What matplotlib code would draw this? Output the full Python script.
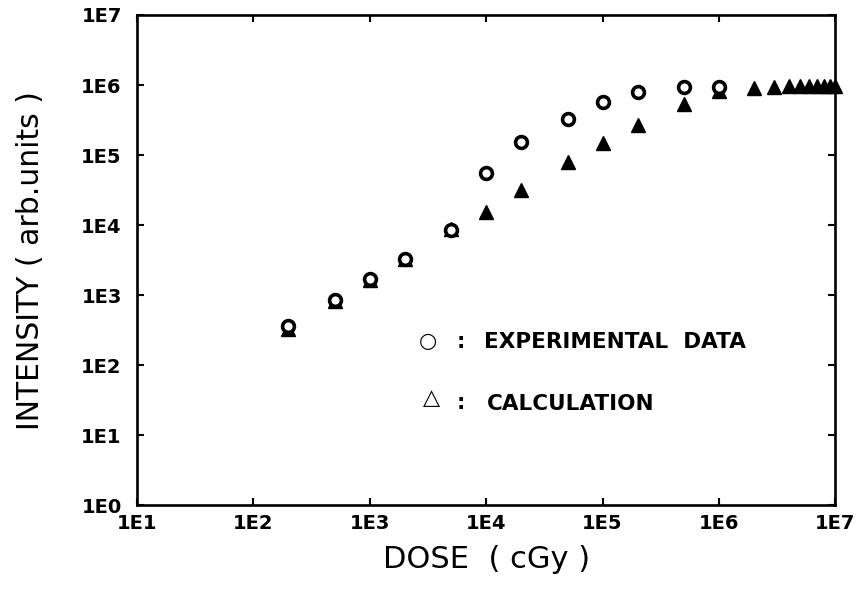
import matplotlib.pyplot as plt

# dose (cGy) and intensity (arb. units)
exp_dose = [2e2, 5e2, 1e3, 2e3, 5e3, 1e4, 2e4, 5e4, 1e5, 2e5, 5e5, 1e6]
exp_int = [360, 850, 1700, 3300, 8500, 5.5e4, 1.55e5, 3.3e5, 5.7e5, 8.0e5, 9.4e5, 9.5e5]

calc_dose = [2e2, 5e2, 1e3, 2e3, 5e3, 1e4, 2e4, 5e4, 1e5, 2e5, 5e5, 1e6,
             2e6, 3e6, 4e6, 5e6, 6e6, 7e6, 8e6, 9e6, 1e7]
calc_int = [330, 830, 1650, 3300, 8800, 1.55e4, 3.2e4, 7.9e4, 1.5e5, 2.7e5, 5.4e5, 8.2e5,
            9.1e5, 9.5e5, 9.7e5, 9.8e5, 9.8e5, 9.8e5, 9.8e5, 9.8e5, 9.8e5]

xticks = [1e1, 1e2, 1e3, 1e4, 1e5, 1e6, 1e7]
xlabels = ['1E1', '1E2', '1E3', '1E4', '1E5', '1E6', '1E7']
yticks = [1e0, 1e1, 1e2, 1e3, 1e4, 1e5, 1e6, 1e7]
ylabels = ['1E0', '1E1', '1E2', '1E3', '1E4', '1E5', '1E6', '1E7']

plt.rcParams['font.family'] = ['DejaVu Sans']

fig = plt.figure(figsize=(8.62, 5.98), dpi=100)
ax = fig.add_axes([0.159, 0.155, 0.81, 0.82])

ax.plot(calc_dose, calc_int, linestyle='none', marker='^', markersize=10,
        color='black', clip_on=False)
ax.plot(exp_dose, exp_int, linestyle='none', marker='o', markersize=8.5,
        markerfacecolor='white', markeredgecolor='black', markeredgewidth=2.6,
        clip_on=False)

ax.set_xscale('log')
ax.set_yscale('log')
ax.set_xlim(1e1, 1e7)
ax.set_ylim(1e0, 1e7)
ax.set_xticks(xticks)
ax.set_xticklabels(xlabels)
ax.set_yticks(yticks)
ax.set_yticklabels(ylabels)
ax.minorticks_off()
ax.tick_params(direction='in', top=True, right=True, length=5, width=1.5,
               labelsize=14)
ax.tick_params(axis='x', pad=6)
ax.tick_params(axis='y', pad=11)
for lab in ax.get_xticklabels() + ax.get_yticklabels():
    lab.set_fontweight('bold')
for s in ax.spines.values():
    s.set_linewidth(1.9)

ax.set_xlabel('DOSE  ( cGy )', fontsize=22, labelpad=9)
ax.set_ylabel('INTENSITY ( arb.units )', fontsize=21.5, labelpad=26)

# legend written as text, as in the original
ax.text(0.417, 0.335, '\u25cb', transform=ax.transAxes, fontsize=15,
        ha='center', va='center')
ax.text(0.463, 0.333, ':', transform=ax.transAxes, fontsize=15,
        fontweight='bold', ha='center', va='center')
ax.text(0.497, 0.333, 'EXPERIMENTAL  DATA', transform=ax.transAxes,
        fontsize=15.5, fontweight='bold', va='center')
ax.text(0.422, 0.218, '\u25b3', transform=ax.transAxes, fontsize=16,
        ha='center', va='center')
ax.text(0.463, 0.208, ':', transform=ax.transAxes, fontsize=15,
        fontweight='bold', ha='center', va='center')
ax.text(0.501, 0.206, 'CALCULATION', transform=ax.transAxes,
        fontsize=15.5, fontweight='bold', va='center')

fig.savefig('out.png', dpi=100)
